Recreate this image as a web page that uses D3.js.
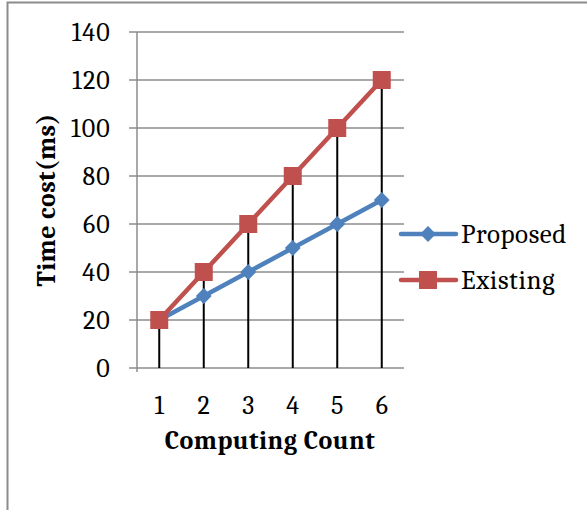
<!DOCTYPE html>
<html>
<head>
<meta charset="utf-8">
<script src="https://cdn.jsdelivr.net/npm/d3@7"></script>
<style>
	body { margin: 0; background: #fff; }
	text { font-family: Cambria, "DejaVu Serif", serif; fill: #000; }
</style>
</head>
<body>
<svg id="chart" width="587" height="510"></svg>
<script>
var categories = ["1", "2", "3", "4", "5", "6"];
var proposed = [20, 30, 40, 50, 60, 70];
var existing = [20, 40, 60, 80, 100, 120];
var yTicks = [0, 20, 40, 60, 80, 100, 120, 140];
var seriesNames = ["Proposed", "Existing"];

var svg = d3.select("#chart");

// outer frame
svg.append("rect")
	.attr("x", 7.5).attr("y", 2.5)
	.attr("width", 640).attr("height", 560)
	.attr("fill", "none")
	.attr("stroke", "#8c8c8c")
	.attr("stroke-width", 2);

var plot = {left: 137, right: 404, top: 32, bottom: 368};

var x = d3.scaleBand()
	.domain(categories)
	.range([plot.left, plot.right]);

var y = d3.scaleLinear()
	.domain([0, 140])
	.range([plot.bottom, plot.top]);

var g = svg.append("g");

// gridlines
g.selectAll("line.grid")
	.data(yTicks)
	.enter()
	.append("line")
	.attr("class", "grid")
	.attr("x1", plot.left - 8)
	.attr("x2", plot.right)
	.attr("y1", function(d) { return y(d); })
	.attr("y2", function(d) { return y(d); })
	.attr("stroke", "#8c8c8c")
	.attr("stroke-width", 1.5);

// left axis line
g.append("line")
	.attr("x1", plot.left).attr("x2", plot.left)
	.attr("y1", plot.top).attr("y2", plot.bottom + 4)
	.attr("stroke", "#8c8c8c")
	.attr("stroke-width", 1.5);

// y tick labels
g.selectAll("text.ytick")
	.data(yTicks)
	.enter()
	.append("text")
	.attr("class", "ytick")
	.attr("x", plot.left - 26)
	.attr("y", function(d) { return y(d); })
	.attr("dy", "0.35em")
	.attr("text-anchor", "end")
	.style("font-size", "26px")
	.style("letter-spacing", "1.2px")
	.text(function(d) { return d; });

// x tick labels
g.selectAll("text.xtick")
	.data(categories)
	.enter()
	.append("text")
	.attr("class", "xtick")
	.attr("x", function(d) { return x(d) + x.bandwidth() / 2; })
	.attr("y", plot.bottom + 46)
	.attr("text-anchor", "middle")
	.style("font-size", "26px")
	.text(function(d) { return d; });

// drop lines from highest point
g.selectAll("line.drop")
	.data(categories)
	.enter()
	.append("line")
	.attr("class", "drop")
	.attr("x1", function(d) { return x(d) + x.bandwidth() / 2; })
	.attr("x2", function(d) { return x(d) + x.bandwidth() / 2; })
	.attr("y1", function(d, i) { return y(Math.max(proposed[i], existing[i])); })
	.attr("y2", plot.bottom)
	.attr("stroke", "#000")
	.attr("stroke-width", 2);

var line = d3.line()
	.x(function(d, i) { return x(categories[i]) + x.bandwidth() / 2; })
	.y(function(d) { return y(d); });

// diamond = square turned 45 degrees
var drawSeries = function(data, color, size, angle) {
	g.append("path")
		.datum(data)
		.attr("d", line)
		.attr("fill", "none")
		.attr("stroke", color)
		.attr("stroke-width", 4.5)
		.attr("stroke-linejoin", "round");

	g.append("g")
		.selectAll("path")
		.data(data)
		.enter()
		.append("path")
		.attr("d", d3.symbol().type(d3.symbolSquare).size(size))
		.attr("transform", function(d, i) {
			return "translate(" + (x(categories[i]) + x.bandwidth() / 2) + "," + y(d) + ") rotate(" + angle + ")";
		})
		.attr("fill", color);
};

drawSeries(proposed, "#4f81bd", 125, 45);
drawSeries(existing, "#c0504d", 324, 0);

// axis titles
svg.append("text")
	.attr("transform", "translate(55," + ((plot.top + plot.bottom) / 2) + ") rotate(-90)")
	.attr("text-anchor", "middle")
	.style("font-size", "26px")
	.style("font-weight", "bold")
	.style("letter-spacing", "0.4px")
	.text("Time cost(ms)");

svg.append("text")
	.attr("x", 270)
	.attr("y", 449)
	.attr("text-anchor", "middle")
	.style("font-size", "26px")
	.style("font-weight", "bold")
	.style("letter-spacing", "0.5px")
	.text("Computing Count");

// legend
var legend = svg.append("g");
var legendColors = ["#4f81bd", "#c0504d"];
var legendSizes = [125, 324];
var legendAngles = [45, 0];

seriesNames.forEach(function(name, i) {
	var ly = 234 + i * 46;
	legend.append("line")
		.attr("x1", 401).attr("x2", 456)
		.attr("y1", ly).attr("y2", ly)
		.attr("stroke", legendColors[i])
		.attr("stroke-width", 4.5)
		.attr("stroke-linecap", "round");
	legend.append("path")
		.attr("d", d3.symbol().type(d3.symbolSquare).size(legendSizes[i]))
		.attr("transform", "translate(428," + ly + ") rotate(" + legendAngles[i] + ")")
		.attr("fill", legendColors[i]);
	legend.append("text")
		.attr("x", 461)
		.attr("y", ly)
		.attr("dy", "0.35em")
		.style("font-size", "27px")
		.style("letter-spacing", "0.6px")
		.text(name);
});
</script>
</body>
</html>
